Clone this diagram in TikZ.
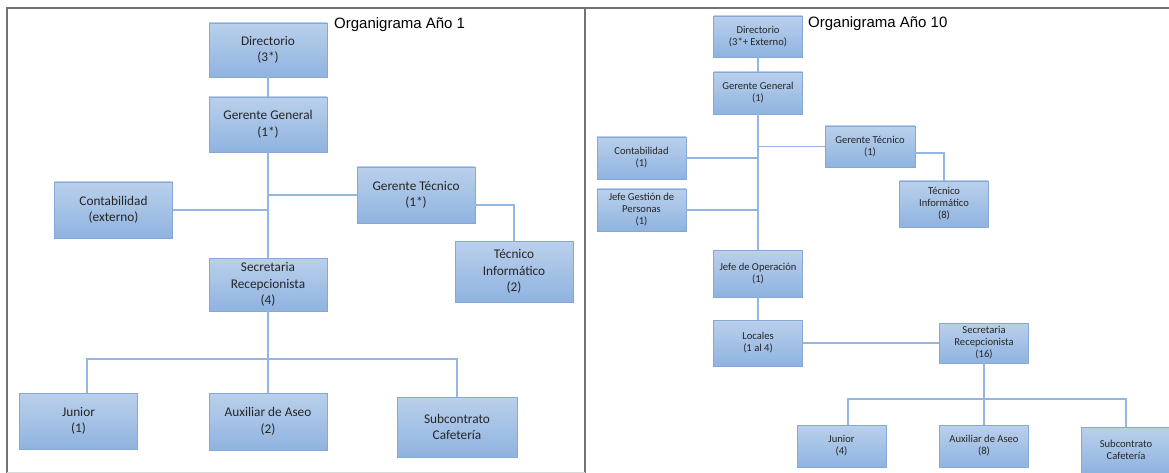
\documentclass[tikz,border=0pt]{standalone}
\usepackage{fontspec}
\setmainfont{Carlito}
\newfontfamily\titulofont{Liberation Sans}
\usepackage{tikz}
\usetikzlibrary{calc}

\definecolor{cajaalta}{HTML}{BAD0EB}
\definecolor{cajabaja}{HTML}{8FB3E0}
\definecolor{cajaborde}{HTML}{84A9D8}
\definecolor{lineaazul}{HTML}{94B7E2}

\begin{document}
\begin{tikzpicture}[x=1pt, y=-1pt,
                    puesto/.style={rectangle, draw=cajaborde, top color=cajaalta, bottom color=cajabaja,
                                   inner sep=0pt, align=center, text=black!85},
                    grande/.style={puesto, minimum width=118pt, minimum height=56pt, font=\fontsize{13.3}{16.5}\selectfont},
                    chico/.style={puesto, minimum width=89pt, minimum height=42pt, font=\fontsize{10.6}{12}\selectfont},
                    linea/.style={draw=lineaazul, line width=1.1pt},
                    marco/.style={draw=black!55, line width=1.3pt},
                    titulo/.style={font=\titulofont\fontsize{15}{18}\selectfont, anchor=base west, inner sep=0pt}]

            \useasboundingbox (0,0) rectangle (1169,473);
            \draw[marco] (7,473) -- (7,8) -- (1169,8);
            \draw[marco] (585,8) -- (585,473);
            \draw[black!15, line width=0.8pt] (7,472) -- (585,472);

            \node[titulo] (titulo1) at (334,29) {Organigrama Año 1};
            \node[titulo] (titulo10) at (808,28) {Organigrama Año 10};

            \node[grande, minimum height=54pt] (dir1) at (268,50) {Directorio\\(3*)};
            \node[grande, minimum height=55pt] (gg1) at (268,124.5) {Gerente General\\(1*)};
            \node[grande] (cont1) at (113.5,210) {Contabilidad\\(externo)};
            \node[grande] (gt1) at (416,195) {Gerente Técnico\\(1*)};
            \node[grande, minimum height=61pt] (ti1) at (514,271.5) {Técnico\\Informático\\(2)};
            \node[grande, minimum height=53pt] (sec1) at (268,284.5) {Secretaria\\Recepcionista\\(4)};
            \node[grande] (jr1) at (78.5,421) {Junior\\(1)};
            \node[grande, minimum height=57pt] (aux1) at (268,421.5) {Auxiliar de Aseo\\(2)};
            \node[grande, minimum width=120pt, minimum height=60pt] (subc1) at (457,427) {Subcontrato\\Cafetería};
            \coordinate (bus1) at (268,359);

            \draw[linea] (dir1) -- (gg1);
            \draw[linea] (gg1) -- (sec1);
            \draw[linea] (cont1) -- (cont1 -| gg1);
            \draw[linea] (gt1) -- (gt1 -| gg1);
            \draw[linea] ([yshift=-10pt]gt1.east) -| (ti1);
            \draw[linea] (sec1) -- (aux1);
            \draw[linea] ([xshift=8.5pt]jr1.north) |- (bus1) -| (subc1);

            \node[chico, minimum height=41pt] (dir10) at (758,36.5) {Directorio\\(3*+ Externo)};
            \node[chico] (gg10) at (758,93) {Gerente General\\(1)};
            \node[chico] (cont10) at (641.5,158) {Contabilidad\\(1)};
            \node[chico] (jgp10) at (641.5,210) {Jefe Gestión de\\Personas\\(1)};
            \node[chico, minimum width=90pt, minimum height=41pt] (gt10) at (870,146.5) {Gerente Técnico\\(1)};
            \node[chico, minimum height=46pt] (ti10) at (944,204) {Técnico\\Informático\\(8)};
            \node[chico, minimum height=47pt] (op10) at (758,273.5) {Jefe de Operación\\(1)};
            \node[chico, minimum height=46pt] (loc10) at (758,343) {Locales\\(1 al 4)};
            \node[chico, minimum height=40pt] (sec10) at (984,343) {Secretaria\\Recepcionista\\(16)};
            \node[chico] (jr10) at (841.5,446) {Junior\\(4)};
            \node[chico] (aux10) at (984,446) {Auxiliar de Aseo\\(8)};
            \node[chico, minimum height=46pt] (subc10) at (1126,450) {Subcontrato\\Cafetería};
            \coordinate (bus10) at (984,399);

            \draw[linea] (dir10) -- (gg10);
            \draw[linea] (gg10) -- (op10);
            \draw[linea] (cont10) -- (cont10 -| gg10);
            \draw[linea] (jgp10) -- (jgp10 -| gg10);
            \draw[linea] (gt10) -- (gt10 -| gg10);
            \draw[linea] ([yshift=-6.5pt]gt10.east) -| (ti10);
            \draw[linea] (op10) -- (loc10);
            \draw[linea] (loc10) -- (sec10);
            \draw[linea] (sec10) -- (aux10);
            \draw[linea] ([xshift=6.5pt]jr10.north) |- (bus10) -| (subc10);
        \end{tikzpicture}
\end{document}
